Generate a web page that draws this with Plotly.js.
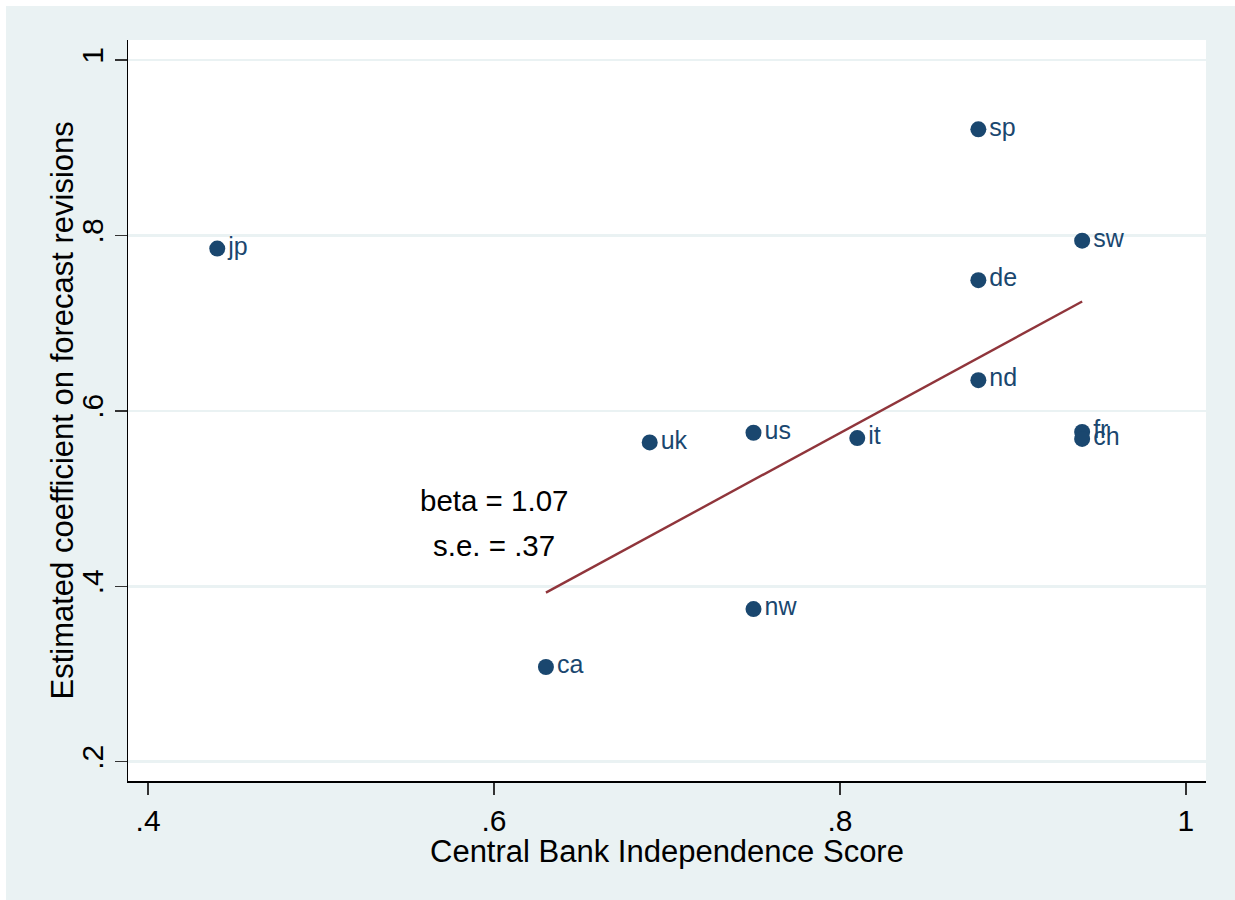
<!DOCTYPE html>
<html>
<head>
<meta charset="utf-8">
<script src="https://cdn.plot.ly/plotly-3.0.1.min.js"></script>
<style>
  html, body { margin: 0; padding: 0; background: #ffffff; }
  #chart { position: absolute; left: 6px; top: 6px; width: 1229px; height: 894px; }
</style>
</head>
<body>
<div id="chart"></div>
<script>
// Data
const countries = ["jp", "sp", "sw", "de", "nd", "fr", "ch", "uk", "us", "it", "nw", "ca"];
const cbiScore  = [0.44, 0.88, 0.94, 0.88, 0.88, 0.94, 0.94, 0.69, 0.75, 0.81, 0.75, 0.63];
const coefRev   = [0.785, 0.921, 0.794, 0.749, 0.635, 0.576, 0.568, 0.564, 0.575, 0.569, 0.374, 0.308];
const excludedFromFit = ["jp"];
const statLines = ["beta = 1.07", "s.e. = .37"];
const xTitle = "Central Bank Independence Score";
const yTitle = "Estimated coefficient on forecast revisions";
const xTickVals = [0.4, 0.6, 0.8, 1.0];
const xTickText = [".4", ".6", ".8", "1"];
const yTickVals = [0.2, 0.4, 0.6, 0.8, 1.0];
const yTickText = [".2", ".4", ".6", ".8", "1"];

// OLS fit on the points used in the regression
const fx = [], fy = [];
countries.forEach((c, i) => { if (!excludedFromFit.includes(c)) { fx.push(cbiScore[i]); fy.push(coefRev[i]); } });
const mx = fx.reduce((a, b) => a + b, 0) / fx.length;
const my = fy.reduce((a, b) => a + b, 0) / fy.length;
let sxy = 0, sxx = 0;
fx.forEach((x, i) => { sxy += (x - mx) * (fy[i] - my); sxx += (x - mx) * (x - mx); });
const slope = sxy / sxx, intercept = my - slope * mx;
const xLo = Math.min(...fx), xHi = Math.max(...fx);
const fitX = [xLo, xHi];
const fitY = fitX.map(x => intercept + slope * x);

const FONT = "Liberation Sans, Arial, Helvetica, sans-serif";
const NAVY = "#1a476f";
const MAROON = "#90353b";
const BG = "#eaf2f3";

const traces = [
  {
    x: fitX, y: fitY, type: "scatter", mode: "lines",
    line: { color: MAROON, width: 2.4 }, hoverinfo: "skip", showlegend: false
  },
  {
    x: cbiScore, y: coefRev, text: countries, type: "scatter", mode: "markers+text",
    textposition: "middle right",
    textfont: { family: FONT, size: 25, color: NAVY },
    marker: { color: NAVY, size: 16, line: { width: 0 } },
    showlegend: false
  }
];

const layout = {
  width: 1229, height: 894,
  paper_bgcolor: BG, plot_bgcolor: "#ffffff",
  margin: { l: 122, r: 29, t: 34, b: 119 },
  font: { family: FONT, color: "#000000" },
  showlegend: false,
  xaxis: {
    range: [0.3884, 1.0116],
    tickvals: xTickVals, ticktext: xTickText,
    ticks: "outside", ticklen: 12, tickwidth: 1.5, tickcolor: "#333333",
    tickfont: { family: FONT, size: 30, color: "#000000" },
    showgrid: false, zeroline: false,
    showline: true, linecolor: "#000000", linewidth: 1.5
  },
  yaxis: {
    range: [0.178, 1.0228],
    tickvals: yTickVals, ticktext: yTickText, tickangle: -90,
    ticks: "outside", ticklen: 12, tickwidth: 1.5, tickcolor: "#333333",
    tickfont: { family: FONT, size: 30, color: "#000000" },
    showgrid: true, gridcolor: BG, gridwidth: 2.5, zeroline: false,
    showline: true, linecolor: "#000000", linewidth: 1.5
  },
  annotations: [
    { x: 0.6, y: 0.498, xref: "x", yref: "y", text: statLines[0], showarrow: false,
      font: { family: FONT, size: 29.5, color: "#000000" }, xanchor: "center", yanchor: "middle" },
    { x: 0.6, y: 0.447, xref: "x", yref: "y", text: statLines[1], showarrow: false,
      font: { family: FONT, size: 29.5, color: "#000000" }, xanchor: "center", yanchor: "middle" },
    { x: 0.5, y: -0.0945, xref: "paper", yref: "paper", text: xTitle, showarrow: false,
      font: { family: FONT, size: 31, color: "#000000" }, xanchor: "center", yanchor: "middle" },
    { x: -0.0612, y: 0.5, xref: "paper", yref: "paper", text: yTitle, showarrow: false, textangle: -90,
      font: { family: FONT, size: 31, color: "#000000" }, xanchor: "center", yanchor: "middle" }
  ]
};

Plotly.newPlot("chart", traces, layout, { displayModeBar: false, staticPlot: true });
</script>
</body>
</html>
